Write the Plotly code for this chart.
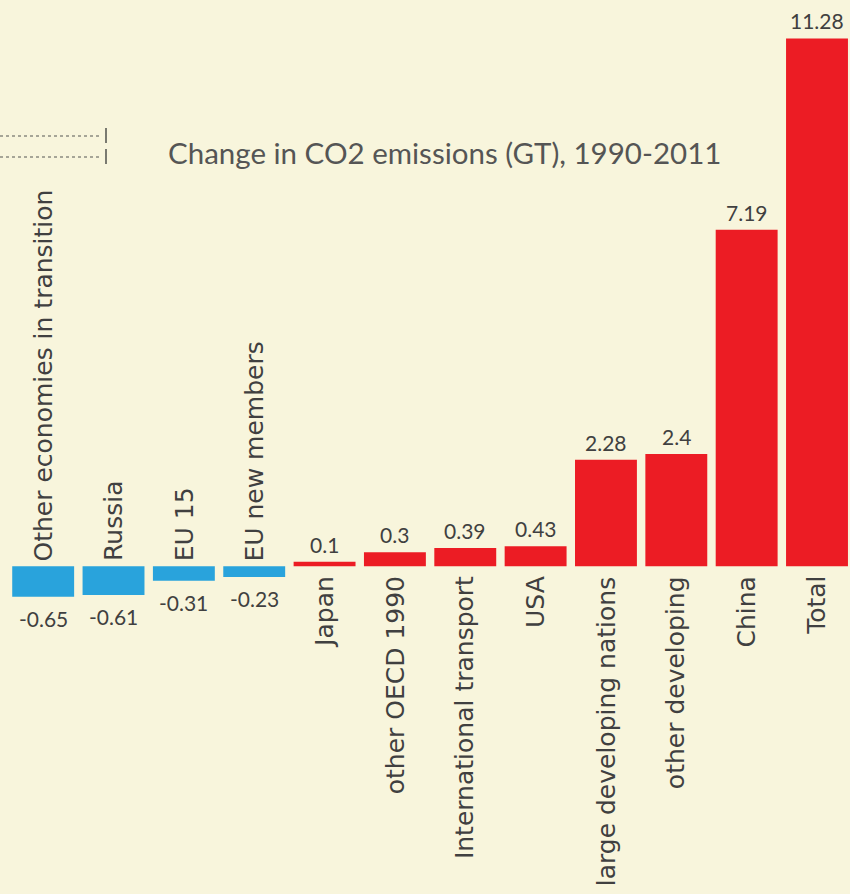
import plotly.graph_objects as go

# Change in CO2 emissions (GT), 1990-2011, by region
categories = [
    "Other economies in transition", "Russia", "EU 15", "EU new members",
    "Japan", "other OECD 1990", "International transport", "USA",
    "large developing nations", "other developing", "China", "Total",
]
change_gt = [-0.65, -0.61, -0.31, -0.23, 0.1, 0.3, 0.39, 0.43, 2.28, 2.4, 7.19, 11.28]

BG = "#f8f5dc"
RED = "#ec1c24"
BLUE = "#29a3dc"
TEXT = "#404040"
FONT = "Lato"
LABEL_FONT = "DejaVu Sans"

colors = [BLUE if v < 0 else RED for v in change_gt]

fig = go.Figure(
    go.Bar(
        x=categories,
        y=change_gt,
        marker=dict(color=colors, line=dict(width=0)),
        width=0.88,
        hoverinfo="x+y",
    )
)

annotations = []
for cat, val in zip(categories, change_gt):
    neg = val < 0
    # value label beyond the bar end
    annotations.append(dict(
        x=cat, y=val, xref="x", yref="y",
        text=f"{val:g}", showarrow=False,
        font=dict(family=FONT, size=21, color=TEXT),
        xanchor="center",
        yanchor="top" if neg else "bottom",
        yshift=-7 if neg else 3,
    ))
    # category name, rotated, on the opposite side of the zero line
    annotations.append(dict(
        x=cat, y=0, xref="x", yref="y",
        text=cat, showarrow=False, textangle=-90,
        font=dict(family=LABEL_FONT, size=25, color=TEXT),
        xanchor="center",
        yanchor="bottom" if neg else "top",
        yshift=3 if neg else -8,
    ))

W, H = 850, 894
ML = 8
PW = W - ML

annotations.append(dict(
    x=(445 - ML) / PW, y=1 - 152 / H, xref="paper", yref="paper",
    text="Change in CO2 emissions (GT), 1990-2011", showarrow=False,
    font=dict(family=FONT, size=29.5, color="#555555"),
    xanchor="center", yanchor="middle",
))

# dotted leader lines with end ticks at the upper left
shapes = []
for yy in (136, 157):
    yp = 1 - yy / H
    shapes.append(dict(
        type="line", xref="paper", yref="paper",
        x0=(0 - ML) / PW, x1=(102 - ML) / PW, y0=yp, y1=yp,
        line=dict(color="#8a8a80", width=1.5, dash="dot"),
    ))
    shapes.append(dict(
        type="line", xref="paper", yref="paper",
        x0=(106 - ML) / PW, x1=(106 - ML) / PW,
        y0=yp - 7 / H, y1=yp + 8 / H,
        line=dict(color="#7a7a70", width=2),
    ))

fig.update_layout(
    width=W, height=H,
    margin=dict(l=ML, r=0, t=0, b=0),
    paper_bgcolor=BG, plot_bgcolor=BG,
    showlegend=False,
    annotations=annotations,
    shapes=shapes,
    xaxis=dict(
        range=[-0.5, 11.469], showticklabels=False, showgrid=False,
        zeroline=False, showline=False, ticks="", fixedrange=True,
    ),
    yaxis=dict(
        range=[-7.0, 12.1], showticklabels=False, showgrid=False,
        zeroline=False, showline=False, ticks="", fixedrange=True,
    ),
)

fig.write_html("out.html")
